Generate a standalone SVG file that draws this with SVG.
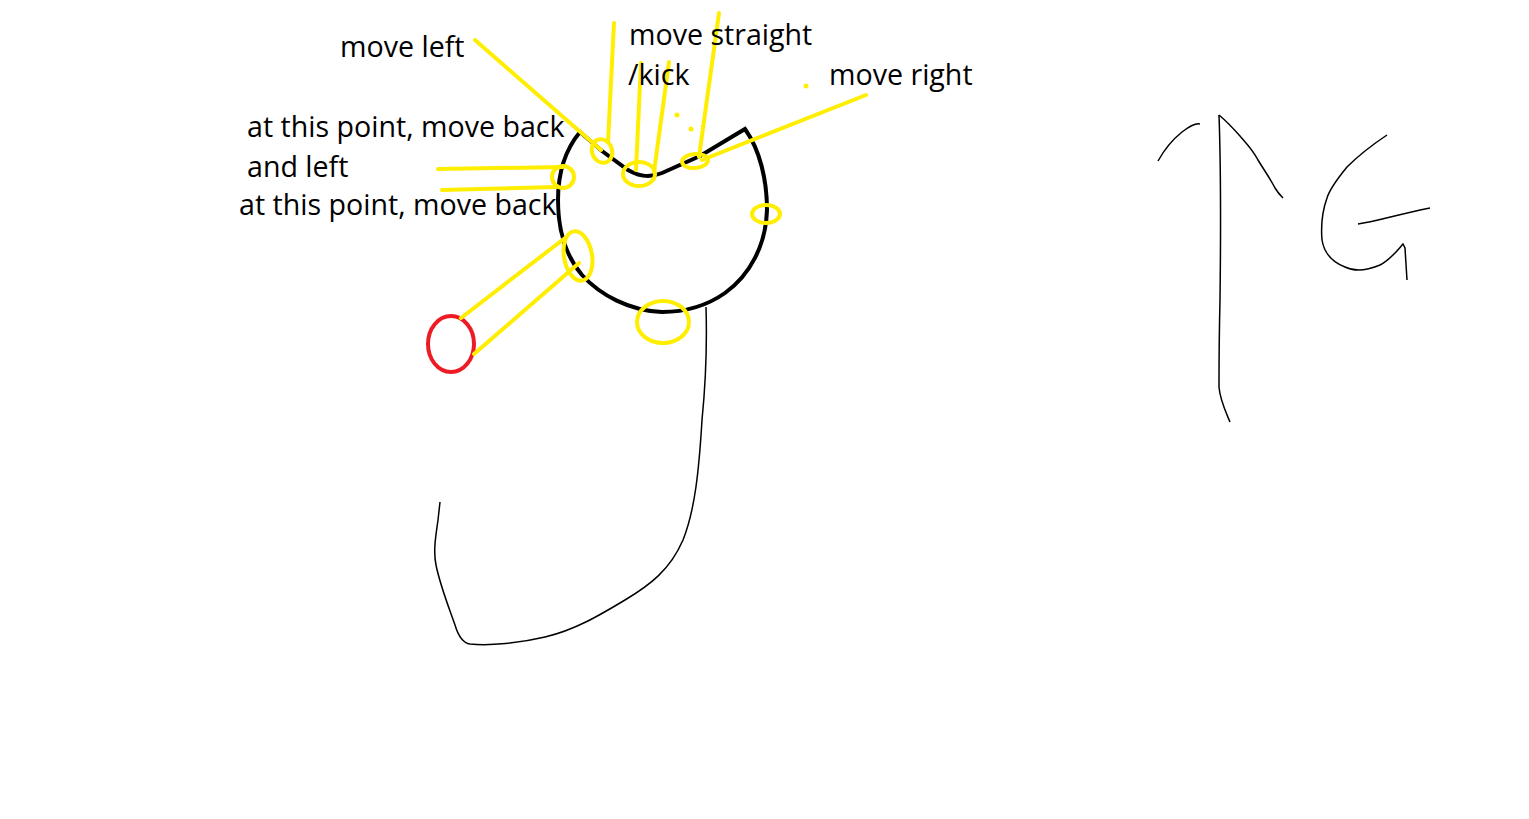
<svg xmlns="http://www.w3.org/2000/svg" width="1529" height="819" viewBox="0 0 1529 819">
<style>
.y{fill:none;stroke:#ffee00;stroke-width:4;stroke-linecap:round}
.yd{fill:#ffee00}
.k{fill:none;stroke:#000;stroke-width:4;stroke-linejoin:miter}
.t{fill:none;stroke:#000;stroke-width:1.5}
.txt{font-family:"Open Sans","Noto Sans",sans-serif;font-size:28.6px;fill:#000}
</style>
<rect width="1529" height="819" fill="#fff"/>
<g id="body">
<path class="k" d="M745,129 C760,150 767,180 767,210 C766,245 750,275 725,293 C705,307 685,312 662,312 C630,311 600,295 582,275 C565,255 558,230 558,200 C558,175 565,150 580,132 L602,151 L628,170 C640,177 650,178 662,173 L700,156 Z" />
</g>
<g id="leg">
<path class="t" d="M706,307 C707,340 706,380 702,420 C699,470 695,510 683,540 C670,570 650,585 625,600 C600,615 575,630 545,637 C520,643 490,646 470,644 C462,643 458,635 455,625 C448,605 440,585 436,565 C433,550 436,535 438,520 L440,502"/>
</g>
<g id="direction">
<path class="t" d="M1158,161 C1163,152 1172,140 1182,132 C1190,126 1195,123 1200,124"/>
<path class="t" d="M1219,115 C1221,170 1221,220 1220,300 C1219,340 1219,370 1219,387 C1220,400 1225,410 1230,422"/>
<path class="t" d="M1219,115 C1225,120 1232,127 1240,136 C1247,144 1253,150 1258,160 C1264,170 1270,178 1275,188 C1278,193 1281,196 1283,198"/>
<path class="t" d="M1387,135 C1375,143 1362,152 1347,167 C1338,178 1330,188 1327,198 C1322,212 1321,228 1322,240 C1324,252 1332,262 1345,267 C1355,272 1368,270 1380,265 C1390,260 1396,252 1403,244 L1405,248 L1407,280"/>
<path class="t" d="M1358,224 C1375,222 1395,215 1430,208"/>
</g>
<g id="markers">
<ellipse class="y" cx="602" cy="151" rx="10" ry="12" transform="rotate(-20 602 151)"/>
<ellipse class="y" cx="639" cy="174" rx="16" ry="12"/>
<ellipse class="y" cx="695" cy="161" rx="13" ry="7" transform="rotate(-5 695 161)"/>
<ellipse class="y" cx="563" cy="177" rx="11" ry="11"/>
<ellipse class="y" cx="766" cy="214" rx="14" ry="9"/>
<ellipse class="y" cx="578" cy="256" rx="14" ry="25" transform="rotate(-10 578 256)"/>
<ellipse class="y" cx="663" cy="322" rx="26" ry="21"/>
<ellipse cx="451" cy="344" rx="23" ry="28" fill="none" stroke="#ed1c24" stroke-width="4"/>
<circle class="yd" cx="677" cy="115" r="2.5"/>
<circle class="yd" cx="691" cy="129" r="2.5"/>
<circle class="yd" cx="806" cy="86" r="2.5"/>
</g>
<g id="connectors">
<line class="y" x1="475" y1="40" x2="601" y2="150"/>
<line class="y" x1="614" y1="23" x2="608" y2="142"/>
<line class="y" x1="641" y1="63" x2="636" y2="170"/>
<line class="y" x1="669" y1="62" x2="654" y2="172"/>
<line class="y" x1="719" y1="13" x2="699" y2="157"/>
<line class="y" x1="866" y1="95" x2="702" y2="160"/>
<line class="y" x1="438" y1="169" x2="563" y2="167"/>
<line class="y" x1="442" y1="190" x2="556" y2="187"/>
<line class="y" x1="461" y1="318" x2="565" y2="238"/>
<line class="y" x1="474" y1="354" x2="579" y2="263"/>
</g>
<g id="labels">
<text class="txt" x="340" y="57">move left</text>
<text class="txt" x="629" y="45">move straight</text>
<text class="txt" x="628" y="85">/kick</text>
<text class="txt" x="829" y="85">move right</text>
<text class="txt" x="247" y="137">at this point, move back</text>
<text class="txt" x="247" y="177">and left</text>
<text class="txt" x="239" y="215">at this point, move back</text>
</g>
</svg>
